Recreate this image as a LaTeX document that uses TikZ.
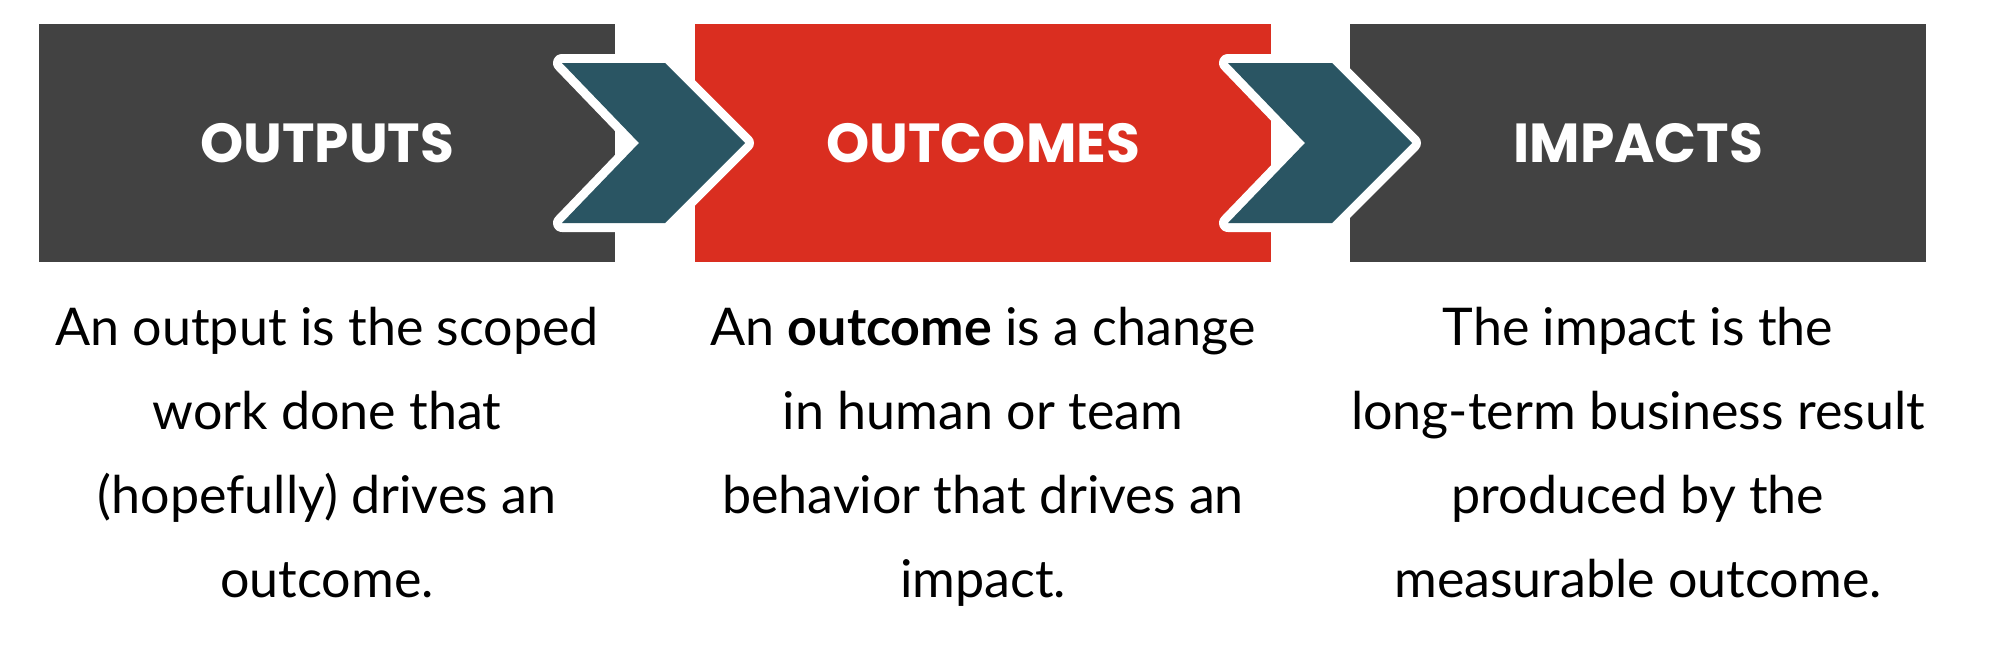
\documentclass[tikz,border=0pt]{standalone}
\usepackage{fontspec}
\setmainfont{Lato}
\newfontfamily\headfont{Poppins}
\definecolor{boxgray}{HTML}{424242}
\definecolor{boxred}{HTML}{DA2E20}
\definecolor{chevteal}{HTML}{2A5563}
\tikzset{
  stagebox/.style={inner sep=0pt, minimum width=576pt, minimum height=238pt, anchor=north west,
    text=white, font=\headfont\bfseries\fontsize{55}{66}\selectfont},
  chevback/.style={draw=white, fill=white, line width=18pt, line join=round},
  chevfront/.style={fill=chevteal},
  desc/.style={align=center, inner sep=0pt, anchor=base, text=black,
    font=\fontsize{52}{84}\selectfont}
}
\begin{document}
\begin{tikzpicture}[x=1pt,y=-1pt]
\useasboundingbox (0,0) rectangle (1999,648);
\node[stagebox, fill=boxgray] (outputs) at (39,24) {OUTPUTS};
\node[stagebox, fill=boxred] (outcomes) at (695,24) {OUTCOMES};
\node[stagebox, fill=boxgray] (impacts) at (1350,24) {IMPACTS};
% chevron 1
\path[chevback] (562,63) -- (665,63) -- (745,143) -- (665,223) -- (562,223) -- (639,143) -- cycle;
\path[chevfront] (562,63) -- (665,63) -- (745,143) -- (665,223) -- (562,223) -- (639,143) -- cycle;
% chevron 2
\path[chevback] (1228,63) -- (1332,63) -- (1412,143) -- (1332,223) -- (1228,223) -- (1305,143) -- cycle;
\path[chevfront] (1228,63) -- (1332,63) -- (1412,143) -- (1332,223) -- (1228,223) -- (1305,143) -- cycle;
% descriptions
\node[desc] (d1) at (327,597) {An output is the scoped\\work done that\\(hopefully) drives an\\outcome.};
\node[desc] (d2) at (983,597) {An \textbf{outcome} is a change\\in human or team\\behavior that drives an\\impact.};
\node[desc] (d3) at (1638,597) {The impact is the\\long-term business result\\produced by the\\measurable outcome.};
\end{tikzpicture}
\end{document}
